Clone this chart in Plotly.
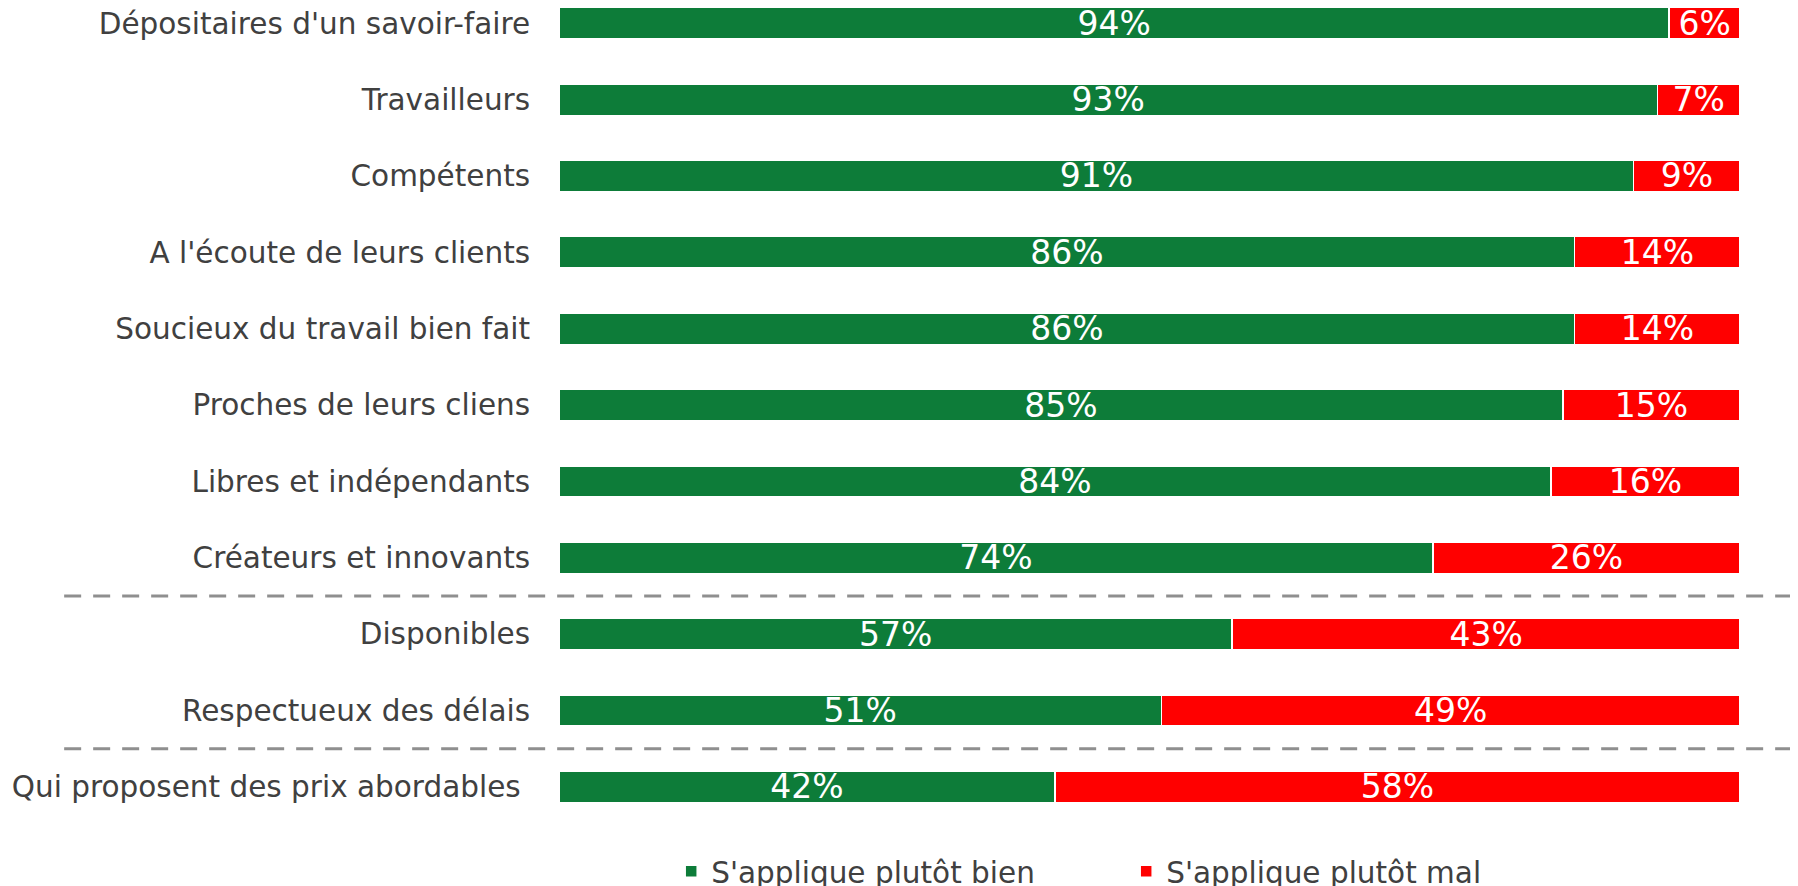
import plotly.graph_objects as go

categories = [
    "Dépositaires d'un savoir-faire",
    "Travailleurs",
    "Compétents",
    "A l'écoute de leurs clients",
    "Soucieux du travail bien fait",
    "Proches de leurs cliens",
    "Libres et indépendants",
    "Créateurs et innovants",
    "Disponibles",
    "Respectueux des délais",
    "Qui proposent des prix abordables",
]
bien = [94, 93, 91, 86, 86, 85, 84, 74, 57, 51, 42]
mal = [6, 7, 9, 14, 14, 15, 16, 26, 43, 49, 58]
series_names = ["S'applique plutôt bien", "S'applique plutôt mal"]
separators_after = [7, 9]  # dashed line after these category indices

GREEN = "#0D7C39"
RED = "#FF0000"
FONT = "DejaVu Sans, Verdana, sans-serif"

fig = go.Figure()
for name, vals, col in [(series_names[0], bien, GREEN), (series_names[1], mal, RED)]:
    fig.add_trace(go.Bar(
        y=categories, x=vals, orientation="h", name=name,
        marker=dict(color=col, line=dict(color="white", width=1.5)),
        text=[f"{v}%" for v in vals], textposition="inside",
        insidetextanchor="middle", textangle=0, constraintext="none",
        textfont=dict(color="white", size=33, family=FONT),
        cliponaxis=False,
        hoverinfo="skip",
    ))

ticktext = list(categories)
ticktext[-1] = ticktext[-1] + "\u00a0"

for idx in separators_after:
    fig.add_shape(type="line", xref="paper", yref="y",
                  x0=-0.419, x1=1.05, y0=idx + 0.5, y1=idx + 0.5,
                  line=dict(color="#8F8F8F", width=3, dash="17px,12px"),
                  layer="above")

fig.update_layout(
    width=1790, height=878,
    barmode="stack", bargap=0.59,
    plot_bgcolor="white", paper_bgcolor="white",
    margin=dict(l=551, r=58, t=0, b=61, autoexpand=False),
    font=dict(family=FONT, size=29.5, color="#404040"),
    xaxis=dict(range=[0, 100], visible=False, fixedrange=True),
    yaxis=dict(type="category", categoryorder="array", categoryarray=categories,
               tickmode="array", tickvals=categories, ticktext=ticktext,
               range=[10.5, -0.2], showgrid=False, zeroline=False,
               showline=False, ticks="outside", ticklen=22,
               tickcolor="rgba(0,0,0,0)",
               tickfont=dict(size=29.5, color="#404040", family=FONT)),
    showlegend=True,
    legend=dict(orientation="h", x=0.095, xanchor="left", y=-0.057,
                yanchor="middle", font=dict(size=29.5, color="#404040", family=FONT),
                entrywidth=410, entrywidthmode="pixels", traceorder="normal"),
)

fig.write_html("out.html")
